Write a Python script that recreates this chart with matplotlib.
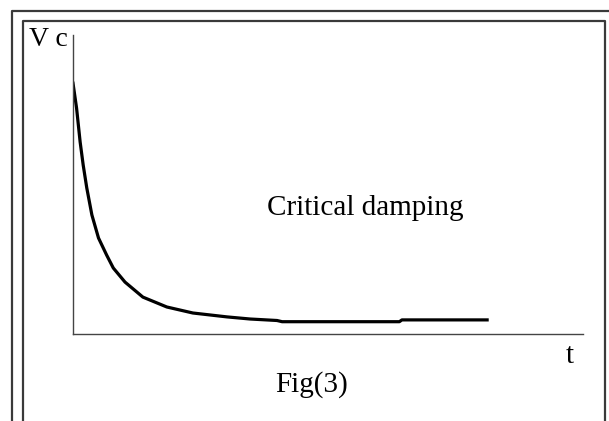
import matplotlib.pyplot as plt
from matplotlib.lines import Line2D

# capacitor voltage for the critically damped case (arbitrary units)
t = [0.0, 0.07, 0.14, 0.20, 0.27, 0.37, 0.50, 0.66, 0.79, 1.02, 1.37,
     1.84, 2.35, 3.02, 3.47, 4.0, 4.1, 6.4, 6.45, 8.12]
vc = [8.36, 7.53, 6.4, 5.63, 4.87, 3.97, 3.2, 2.63, 2.2, 1.73, 1.23,
      0.9, 0.7, 0.57, 0.5, 0.45, 0.41, 0.41, 0.47, 0.47]

plt.rcParams['font.family'] = ['Liberation Serif', 'DejaVu Serif']

fig = plt.figure(figsize=(6.09, 4.21), dpi=100)
W, H = 609, 421

def px(x, y):
    return x / W, 1 - y / H

# double frame around the figure
for pts in [[(11.5, 421), (11.5, 10.5), (609, 10.5)],
            [(23, 421), (23, 20.5), (605, 20.5), (605, 421)]]:
    xs = [px(*p)[0] for p in pts]
    ys = [px(*p)[1] for p in pts]
    fig.add_artist(Line2D(xs, ys, transform=fig.transFigure,
                          color='#3a3a3a', lw=1.6))

ax = fig.add_axes([73 / W, 1 - 334 / H, 510 / W, 299 / H])
ax.plot(t, vc, color='black', lw=2.3)
ax.set_xlim(0, 10)
ax.set_ylim(0, 299 / 30)
ax.set_xticks([])
ax.set_yticks([])
for s in ['top', 'right']:
    ax.spines[s].set_visible(False)
for s in ['left', 'bottom']:
    ax.spines[s].set_color('#444444')
    ax.spines[s].set_linewidth(1.0)

fig.text(*px(48, 40), 'V c', fontsize=20, ha='center', va='center')
fig.text(*px(570, 356), 't', fontsize=21, ha='center', va='center')
fig.text(*px(312, 385), 'Fig(3)', fontsize=21, ha='center', va='center')
fig.text(*px(365, 208), 'Critical damping', fontsize=21, ha='center', va='center')

fig.savefig('out.png', dpi=100)
